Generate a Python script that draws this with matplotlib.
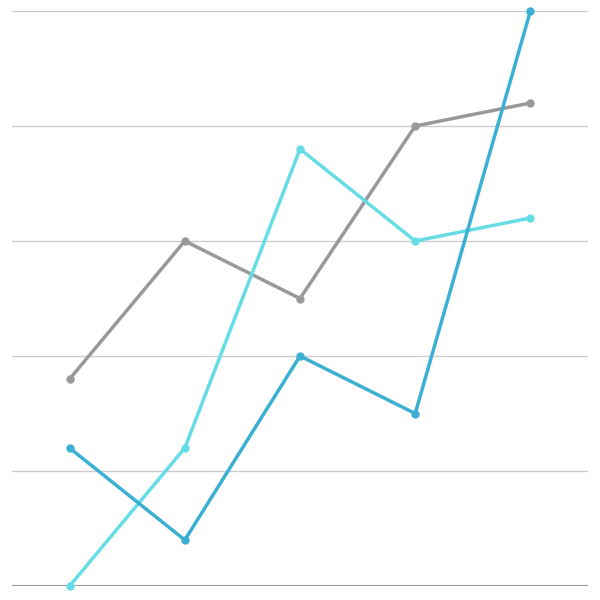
import matplotlib
matplotlib.use("Agg")
import matplotlib.pyplot as plt

categories = [0, 1, 2, 3, 4]
gray_vals = [18, 30, 25, 40, 42]
light_vals = [0, 12, 38, 30, 32]
blue_vals = [12, 4, 20, 15, 50]
y_ticks = [0, 10, 20, 30, 40, 50]

fig = plt.figure(figsize=(6, 6), dpi=100)
ax = fig.add_axes([12 / 600, 14 / 600, 576 / 600, 575 / 600])

for yv in y_ticks[1:]:
    ax.axhline(yv, color="#cccccc", lw=1, zorder=0)
ax.axhline(0, color="#999999", lw=1.5, zorder=0)

series = [
    (gray_vals, "#999999"),
    (light_vals, "#66dde6"),
    (blue_vals, "#3bb0d3"),
]
for vals, col in series:
    ax.plot(categories, vals, color=col, lw=2.5, marker="o", ms=5,
            clip_on=False, zorder=3)

ax.set_xlim(-0.5, 4.5)
ax.set_ylim(0, 50)
ax.set_xticks([])
ax.set_yticks([])
for s in ax.spines.values():
    s.set_visible(False)

fig.savefig("out.png", dpi=100)
